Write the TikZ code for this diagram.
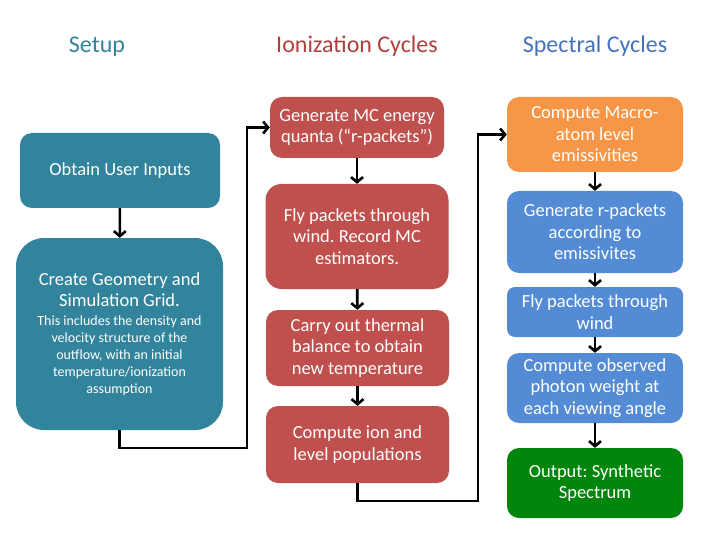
\documentclass[tikz,border=0pt]{standalone}
\usepackage{fontspec}
\setmainfont{Carlito}
\frenchspacing
\usetikzlibrary{arrows.meta}
\definecolor{setupcol}{RGB}{49,132,155}
\definecolor{ioncol}{RGB}{192,80,77}
\definecolor{ionhead}{RGB}{176,62,60}
\definecolor{macrocol}{RGB}{247,150,70}
\definecolor{speccol}{RGB}{84,139,213}
\definecolor{spechead}{RGB}{68,114,186}
\definecolor{outcol}{RGB}{0,134,12}
\newcommand{\smalltxt}{\fontsize{14}{17}\selectfont}
\tikzset{
  stepbox/.style = {rectangle, rounded corners=#1, text=white,
                    align=center, inner sep=0pt,
                    font=\fontsize{18.5}{21.5}\selectfont},
  stepbox/.default = 12pt,
  head/.style = {anchor=base, font=\fontsize{24}{28}\selectfont},
  flow/.style = {black, line width=2.6pt,
                 -{Straight Barb[length=5pt,width=12pt,line width=2.6pt]}}
}

\begin{document}
\begin{tikzpicture}[x=1pt,y=-1pt]
	\useasboundingbox (0,0) rectangle (720,540);
	\def \wion{183pt}
	\def \wspec{176pt}

	% Headers
	\node[head, text=setupcol] (hsetup) at (97,53) {Setup};
	\node[head, text=ionhead] (hion) at (357,53) {Ionization Cycles};
	\node[head, text=spechead] (hspec) at (595,53) {Spectral Cycles};

	% Setup
	\node[stepbox, fill=setupcol, minimum width=200pt, minimum height=75pt] (inputs) at (120,170.5) {Obtain User Inputs};
	\node[stepbox=28pt, fill=setupcol, minimum width=207pt, minimum height=192pt] (geometry) at (119.5,334)
		{Create Geometry and\\Simulation Grid.\\[-2.5pt]
		 \smalltxt This includes the density and\\[-4.5pt]\smalltxt velocity structure of the\\[-4.5pt]
		 \smalltxt outflow, with an initial\\[-4.5pt]\smalltxt temperature/ionization\\[-4.5pt]\smalltxt assumption};

	% Ionization cycles
	\node[stepbox, fill=ioncol, minimum width=174pt, minimum height=61pt] (generate) at (357,127.5) {Generate MC energy\\quanta (“r-packets”)};
	\node[stepbox=16pt, fill=ioncol, minimum width=\wion, minimum height=105pt] (flyion) at (357,236.5) {Fly packets through\\wind. Record MC\\estimators.};
	\node[stepbox, fill=ioncol, minimum width=\wion, minimum height=76pt] (thermal) at (357.5,348) {Carry out thermal\\balance to obtain\\new temperature};
	\node[stepbox, fill=ioncol, minimum width=\wion, minimum height=77pt] (ionpop) at (357.5,444.5) {Compute ion and\\level populations};

	% Spectral cycles
	\node[stepbox, fill=macrocol, minimum width=\wspec, minimum height=75pt] (macro) at (595,134.5) {Compute Macro-\\atom level\\emissivities};
	\node[stepbox, fill=speccol, minimum width=\wspec, minimum height=82pt] (genr) at (595,232) {Generate r-packets\\according to\\emissivites};
	\node[stepbox=8pt, fill=speccol, minimum width=\wspec, minimum height=50pt] (flyspec) at (595,312) {Fly packets through\\wind};
	\node[stepbox, fill=speccol, minimum width=\wspec, minimum height=70pt] (observed) at (595,388) {Compute observed\\photon weight at\\each viewing angle};
	\node[stepbox, fill=outcol, minimum width=\wspec, minimum height=70pt] (output) at (595,483) {Output: Synthetic\\Spectrum};

	% Arrows
	\draw[flow] (inputs) -- (geometry);
	\draw[flow] (generate) -- (flyion);
	\draw[flow] (flyion) -- (thermal);
	\draw[flow] (thermal) -- (ionpop);
	\draw[flow] (macro) -- (genr);
	\draw[flow] (genr) -- (flyspec);
	\draw[flow] (flyspec) -- (observed);
	\draw[flow] (observed) -- (output);

	% Loops to next stage
	\coordinate (c1) at (247,448);
	\coordinate (c2) at (478,501);
	\draw[flow] (geometry.south) |- (c1) |- (generate.west);
	\draw[flow] (ionpop.south) |- (c2) |- (macro.west);
\end{tikzpicture}
\end{document}
